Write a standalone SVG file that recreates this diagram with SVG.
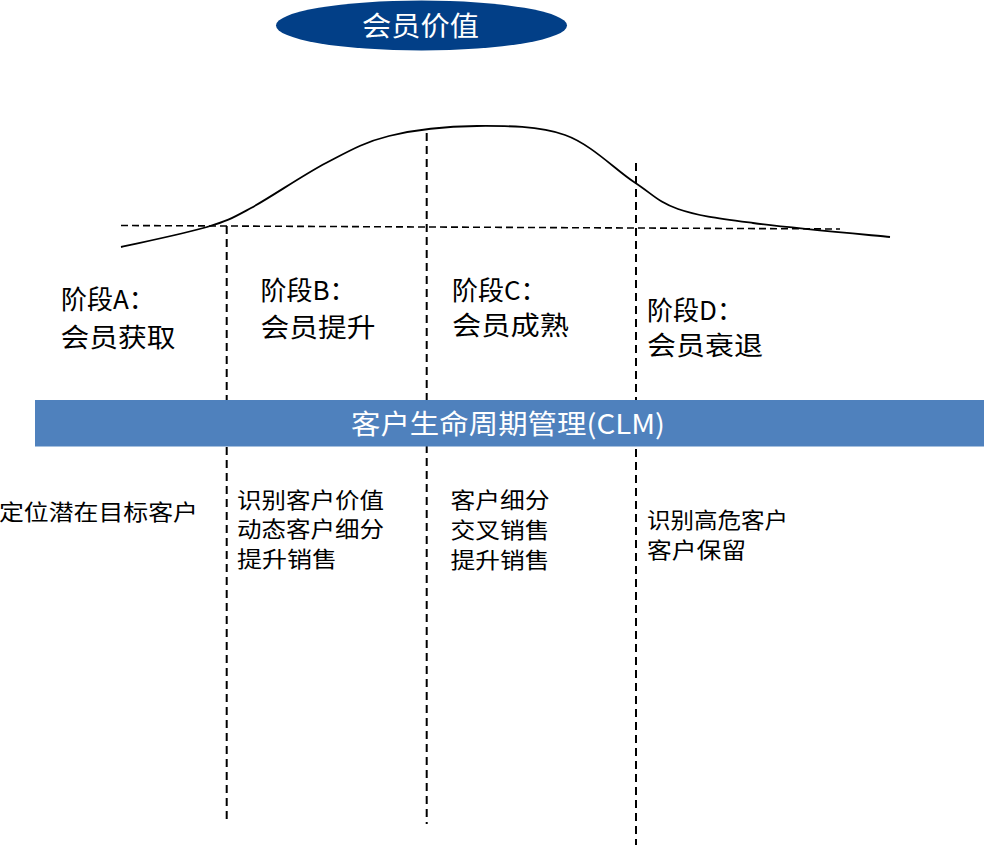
<svg xmlns="http://www.w3.org/2000/svg" width="984" height="845" viewBox="0 0 984 845">
<style>
  text { font-family: "Noto Sans CJK SC", "Microsoft YaHei", sans-serif; }
  .title { font-size: 27px; fill: #ffffff; }
  .stage { font-size: 26px; fill: #000000; }
  .bar { font-size: 27px; fill: #ffffff; }
  .task { font-size: 22px; fill: #000000; }
  .vdash { fill: none; stroke: #000000; stroke-width: 2; stroke-dasharray: 8 5; }
  .hdash { fill: none; stroke: #000000; stroke-width: 1.6; stroke-dasharray: 7 4; }
  .curve { fill: none; stroke: #000000; stroke-width: 1.8; }
</style>
<rect x="0" y="0" width="984" height="845" fill="#ffffff"/>

<g id="title">
  <ellipse cx="421.5" cy="25.5" rx="145.5" ry="25" fill="#023F87"/>
  <text class="title" x="420.5" y="36" text-anchor="middle" textLength="117" lengthAdjust="spacingAndGlyphs">会员价值</text>
</g>

<g id="connectors">
  <path class="curve" d="M121,247 C135.3,243.7 185.3,233.5 207,227 C228.7,220.5 231.2,218.7 251,208 C270.8,197.3 303,175 326,163 C349,151 363.8,142.2 389,136 C414.2,129.8 447.7,126.2 477,126 C506.3,125.8 538.8,125.7 565,135 C591.2,144.3 615.2,169.7 634,182 C652.8,194.3 658.2,202.2 678,209 C697.8,215.8 717.8,218.3 753,223 C788.2,227.7 866.3,234.7 890,237"/>
  <line class="hdash" x1="121" y1="225.5" x2="840" y2="229"/>
  <line class="vdash" x1="226.7" y1="226" x2="226.7" y2="824"/>
  <line class="vdash" x1="426.7" y1="133" x2="426.7" y2="824"/>
  <line class="vdash" x1="636" y1="163" x2="636" y2="845"/>
</g>

<g id="stageA">
  <text class="stage" x="61" y="309">阶段A：</text>
  <text class="stage" x="60.5" y="347" textLength="115" lengthAdjust="spacingAndGlyphs">会员获取</text>
</g>
<g id="stageB">
  <text class="stage" x="260.5" y="300">阶段B：</text>
  <text class="stage" x="260.5" y="337" textLength="115" lengthAdjust="spacingAndGlyphs">会员提升</text>
</g>
<g id="stageC">
  <text class="stage" x="452" y="300">阶段C：</text>
  <text class="stage" x="452" y="335" textLength="117" lengthAdjust="spacingAndGlyphs">会员成熟</text>
</g>
<g id="stageD">
  <text class="stage" x="647" y="320">阶段D：</text>
  <text class="stage" x="647" y="355" textLength="116" lengthAdjust="spacingAndGlyphs">会员衰退</text>
</g>

<g id="clm-bar">
  <rect x="35" y="400" width="949" height="46.5" fill="#4F81BD"/>
  <text class="bar" x="351" y="434" textLength="314" lengthAdjust="spacingAndGlyphs">客户生命周期管理(CLM)</text>
</g>

<g id="taskA">
  <text class="task" x="-1" y="520" textLength="199" lengthAdjust="spacingAndGlyphs">定位潜在目标客户</text>
</g>
<g id="taskB">
  <text class="task" x="237" y="508" textLength="147" lengthAdjust="spacingAndGlyphs">识别客户价值</text>
  <text class="task" x="237" y="537" textLength="147" lengthAdjust="spacingAndGlyphs">动态客户细分</text>
  <text class="task" x="237" y="566.5" textLength="100" lengthAdjust="spacingAndGlyphs">提升销售</text>
</g>
<g id="taskC">
  <text class="task" x="450.5" y="508" textLength="99" lengthAdjust="spacingAndGlyphs">客户细分</text>
  <text class="task" x="450.5" y="538" textLength="99" lengthAdjust="spacingAndGlyphs">交叉销售</text>
  <text class="task" x="450.5" y="568" textLength="99" lengthAdjust="spacingAndGlyphs">提升销售</text>
</g>
<g id="taskD">
  <text class="task" x="647" y="528" textLength="141" lengthAdjust="spacingAndGlyphs">识别高危客户</text>
  <text class="task" x="647" y="558" textLength="99" lengthAdjust="spacingAndGlyphs">客户保留</text>
</g>
</svg>
